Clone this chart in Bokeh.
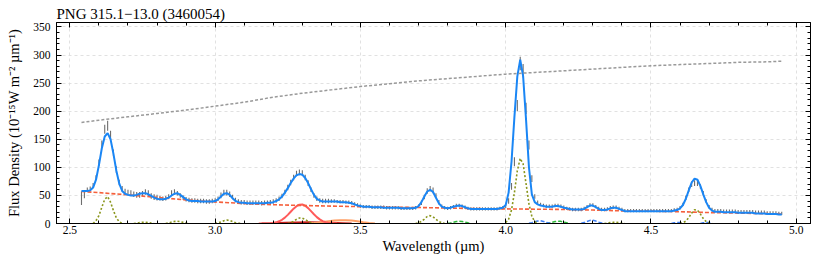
import numpy as np
from bokeh.plotting import figure
from bokeh.models import (LinearAxis, SingleIntervalTicker, PrintfTickFormatter,
                          Range1d, ColumnDataSource)
from bokeh.embed import file_html
from bokeh.resources import INLINE

# ---------------- data ----------------
# wavelength grid of the spectrum (micron)
wavelength = np.round(np.arange(254, 496) / 100.0, 2)  # 2.54 ... 4.95

# observed flux density (1e-15 W m^-2 um^-1)
flux_obs = [
    45, 52, 60, 62, 68, 82,
    108, 142, 168, 174, 158, 126, 96, 73, 62, 57,
    55, 54, 52, 51, 51, 53, 56, 54, 49, 47,
    46, 45, 44, 45, 48, 54, 56, 54, 50, 46,
    43, 42, 41, 41, 40, 40, 40, 39, 39, 40,
    41, 44, 50, 55, 55, 52, 47, 42, 39, 38,
    38, 37, 37, 37, 37, 37, 36, 37, 37, 38,
    39, 41, 44, 49, 56, 64, 73, 82, 89, 91,
    90, 82, 72, 60, 50, 44, 41, 40, 40, 40,
    40, 40, 39, 39, 39, 38, 38, 37, 35, 33,
    31, 30, 30, 30, 29, 29, 29, 29, 29, 28,
    28, 28, 28, 28, 27, 27, 27, 27, 27, 28,
    31, 37, 47, 58, 62, 59, 50, 38, 31, 28,
    27, 28, 30, 32, 32, 31, 29, 27, 26, 26,
    26, 26, 26, 26, 26, 26, 26, 26, 27, 28,
    30, 40, 66, 110, 210, 285, 272, 205, 140, 80,
    48, 38, 34, 32, 31, 31, 31, 32, 32, 31,
    29, 27, 26, 25, 25, 25, 25, 27, 30, 33,
    33, 30, 27, 25, 25, 26, 28, 29, 29, 27,
    25, 23, 23, 23, 23, 23, 23, 23, 23, 23,
    23, 23, 23, 23, 23, 23, 23, 23, 24, 25,
    28, 34, 46, 60, 70, 72, 72, 66, 54, 40,
    30, 25, 23, 23, 23, 22, 22, 22, 22, 22,
    21, 21, 21, 21, 21, 21, 20, 20, 20, 20,
    19, 19, 19, 19, 18, 18,
]
flux_err = [
    12, 7, 4, 4, 4, 4,
    6, 6, 8, 9, 7, 6, 6, 5, 5, 5,
    5, 5, 5, 5, 5, 5, 5, 5, 5, 5,
    5, 4, 4, 4, 4, 5, 5, 4, 4, 4,
    4, 4, 4, 4, 4, 4, 4, 4, 4, 4,
    4, 4, 5, 5, 5, 5, 4, 4, 4, 4,
    4, 4, 4, 4, 4, 4, 4, 4, 4, 4,
    4, 4, 4, 4, 4, 5, 5, 5, 5, 5,
    5, 5, 5, 4, 4, 4, 4, 4, 4, 4,
    3, 3, 3, 3, 3, 3, 3, 3, 3, 3,
    3, 3, 3, 3, 3, 3, 3, 3, 3, 3,
    3, 3, 3, 3, 3, 3, 3, 3, 3, 3,
    3, 4, 4, 5, 5, 5, 4, 4, 3, 3,
    3, 3, 3, 3, 3, 3, 3, 3, 3, 3,
    3, 3, 3, 3, 3, 3, 3, 3, 3, 3,
    3, 5, 6, 8, 10, 12, 12, 10, 8, 6,
    4, 3, 3, 3, 3, 3, 3, 3, 3, 3,
    3, 3, 3, 3, 3, 3, 3, 3, 3, 3,
    3, 3, 3, 3, 3, 3, 3, 3, 3, 3,
    3, 3, 3, 3, 3, 3, 3, 3, 3, 3,
    3, 3, 3, 3, 3, 3, 3, 3, 3, 3,
    3, 3, 4, 4, 5, 5, 5, 4, 4, 3,
    3, 3, 3, 3, 3, 3, 3, 3, 3, 3,
    3, 3, 3, 3, 3, 3, 3, 3, 3, 3,
    3, 3, 3, 3, 3, 3,
]
# total model fit
flux_model = [
    58, 58, 58, 59, 64, 78,
    104, 134, 155, 161, 150, 124, 94, 71, 58, 53,
    51, 50, 50, 51, 53, 54, 54, 52, 49, 46,
    44, 43, 43, 44, 46, 50, 53, 54, 51, 47,
    43, 41, 40, 40, 40, 39, 39, 39, 39, 39,
    40, 43, 48, 53, 54, 51, 45, 40, 38, 37,
    37, 36, 36, 36, 36, 36, 36, 36, 37, 37,
    38, 40, 43, 48, 55, 63, 72, 80, 86, 88,
    87, 81, 72, 61, 51, 44, 41, 39, 39, 39,
    39, 39, 39, 38, 38, 38, 37, 36, 34, 32,
    31, 30, 30, 30, 29, 29, 29, 29, 28, 28,
    28, 28, 28, 28, 27, 27, 27, 27, 27, 28,
    31, 38, 48, 57, 60, 56, 46, 36, 30, 28,
    27, 28, 30, 31, 32, 31, 29, 27, 26, 26,
    26, 26, 26, 26, 26, 26, 26, 26, 27, 28,
    33, 55, 110, 190, 262, 292, 262, 185, 100, 52,
    38, 34, 32, 31, 30, 30, 30, 31, 31, 30,
    28, 27, 26, 25, 25, 25, 25, 26, 29, 32,
    32, 29, 26, 24, 24, 25, 27, 28, 28, 26,
    24, 22, 22, 22, 22, 22, 22, 22, 22, 22,
    22, 22, 22, 22, 22, 22, 22, 22, 23, 24,
    27, 33, 44, 59, 73, 80, 78, 67, 52, 38,
    28, 23, 21, 21, 21, 20, 20, 20, 20, 20,
    19, 19, 19, 19, 19, 19, 18, 18, 18, 18,
    17, 17, 17, 17, 16, 16,
]

# continuum (red dashed)
cont_wl = [2.54, 2.6, 2.7, 2.8, 2.9, 3.0, 3.1, 3.2, 3.3, 3.4, 3.5, 3.6, 3.7,
           3.8, 3.9, 4.0, 4.1, 4.2, 4.3, 4.4, 4.5, 4.6, 4.7, 4.8, 4.9, 4.95]
cont_flux = [57, 55, 51, 46.5, 42, 38.5, 35.5, 33.5, 32, 31, 30, 29, 28.5,
             27.5, 26.5, 26, 25.5, 25, 24, 22.5, 22, 21, 19.5, 18.5, 17.5, 17]

# blackbody (grey dotted)
bb_wl = cont_wl
bb_flux = [180, 184, 190, 196, 202, 209, 216, 225, 232, 238, 244, 249, 254,
           258, 262, 266, 269, 272, 275, 278, 281, 283, 285, 287, 288, 289]

# hydrogen recombination lines (olive dotted): start wavelength, values per 0.01 um
hline_start = [2.58, 2.72, 2.83, 3.00, 3.25, 3.69, 4.00, 4.34, 4.60]
hline_vals = [
    [0, 5, 14, 29, 43, 48, 38, 23, 10, 3, 0],
    [0, 0.6, 1.5, 2.2, 2.2, 1.5, 0.6, 0],
    [0, 1, 2.5, 3.7, 4, 3.3, 2, 0.8, 0],
    [0, 1, 2.8, 5, 6, 5.5, 3.5, 1.5, 0.4, 0],
    [0, 1.5, 4, 7.5, 9.8, 9.6, 7, 3.8, 1.4, 0],
    [0, 1.2, 3.8, 8, 12.5, 14, 12, 7.5, 3.5, 1.1, 0],
    [1.8, 7.7, 24, 55, 94, 116, 106, 71, 35, 12.6, 3.3, 0.5],
    [0, 0.8, 1.6, 2, 2, 1.4, 0.6, 0],
    [0.3, 1.3, 4.2, 10.3, 18.5, 24.4, 23.6, 16.8, 8.8, 3.4, 1, 0.2],
]

# 3.3 um PAH feature (red solid)
pah_start = 3.15
pah_vals = [0, 0, 0.1, 0.2, 0.5, 1.1, 2.1, 3.9, 6.6, 10.5, 15.4, 20.9, 26.4, 30.9,
            33.5, 33.8, 31.6, 27.4, 22, 16.4, 11.4, 7.3, 4.3, 2.4, 1.2, 0.6, 0.3, 0.1]
# broad plateau (dark red solid)
plateau_wl = [3.16, 3.20, 3.24, 3.28, 3.32, 3.36, 3.40, 3.44, 3.47]
plateau_vals = [0.3, 1.0, 1.8, 2.3, 2.4, 2.2, 1.6, 0.8, 0.2]
# 3.4 um aliphatic feature (orange solid)
ali_wl = [3.33, 3.35, 3.37, 3.39, 3.41, 3.43, 3.45, 3.47, 3.49, 3.51, 3.53, 3.55]
ali_vals = [0.3, 1.2, 2.6, 4.0, 5.2, 5.9, 6.0, 5.4, 4.1, 2.4, 0.9, 0.2]

# H2 lines (green dashed)
h2_start = [3.80, 4.14]
h2_vals = [[0.3, 1, 2.2, 3.4, 4, 3.6, 2.5, 1.2, 0.4],
           [0.3, 1, 2.2, 3.4, 4.2, 3.8, 2.6, 1.2, 0.4]]
# other lines (blue dashed)
oth_start = [4.08, 4.26, 4.57, 4.67]
oth_vals = [[0.4, 1.5, 3.2, 4.6, 4.8, 3.7, 2, 0.8, 0.2],
            [0.4, 1.6, 3.6, 5.5, 5.8, 4.4, 2.4, 0.9, 0.2],
            [0.2, 1.2, 2.0, 1.6, 0.4],
            [0.2, 1.2, 2.0, 1.6, 0.4]]


def grid(start, vals):
    return list(np.round(start + 0.01 * np.arange(len(vals)), 3))


# ---------------- figure ----------------
FONT = "Liberation Serif"

p = figure(width=830, height=256,
           x_range=Range1d(2.454, 5.049), y_range=Range1d(0, 358),
           output_backend="svg", toolbar_location=None,
           title="PNG 315.1\u221213.0 (3460054)",
           min_border_left=56, min_border_right=20,
           min_border_top=22, min_border_bottom=33)
p.background_fill_color = "white"
p.border_fill_color = "white"
p.outline_line_color = "black"
p.outline_line_width = 1

p.title.text_font = FONT
p.title.text_font_style = "normal"
p.title.text_font_size = "15px"
p.title.text_color = "black"
p.title.align = "left"
p.title.offset = 0
p.title.standoff = 1

xt = SingleIntervalTicker(interval=0.5, num_minor_ticks=5)
yt = SingleIntervalTicker(interval=50, num_minor_ticks=5)


def style_axis(ax, labels=True):
    ax.axis_line_color = "black"
    ax.major_tick_in = 5
    ax.major_tick_out = 0
    ax.minor_tick_in = 3
    ax.minor_tick_out = 0
    ax.major_tick_line_color = "black"
    ax.minor_tick_line_color = "black"
    ax.major_label_text_font = FONT
    ax.major_label_text_font_size = "11.5px" if labels else "1px"
    ax.major_label_text_color = "black" if labels else None
    ax.axis_label_text_font = FONT
    ax.axis_label_text_font_style = "normal"
    ax.axis_label_text_font_size = "14.5px"
    ax.axis_label_text_color = "black"


p.xaxis.ticker = xt
p.yaxis.ticker = yt
p.xaxis.formatter = PrintfTickFormatter(format="%.1f")
style_axis(p.xaxis[0])
style_axis(p.yaxis[0])
p.xaxis.axis_label = "Wavelength (\u00b5m)"
p.yaxis.axis_label = "Flux Density (10\u207b\u00b9\u2075W m\u207b\u00b2 \u00b5m\u207b\u00b9)"
p.xaxis.major_label_standoff = 2
p.xaxis.axis_label_standoff = 1
p.yaxis.major_label_standoff = 6
p.yaxis.axis_label_standoff = 8

top = LinearAxis(ticker=xt)
style_axis(top, labels=False)
top.major_label_standoff = 0
p.add_layout(top, "above")
right = LinearAxis(ticker=yt)
style_axis(right, labels=False)
right.major_label_standoff = 0
p.add_layout(right, "right")

p.xgrid.ticker = xt
p.ygrid.ticker = yt
for g in (p.xgrid[0], p.ygrid[0]):
    g.grid_line_color = "#d9d9d9"
    g.grid_line_dash = "3 3"
    g.grid_line_width = 0.8

# error bars
lo = [f - e for f, e in zip(flux_obs, flux_err)]
hi = [f + e for f, e in zip(flux_obs, flux_err)]
src = ColumnDataSource(dict(x=wavelength, lo=lo, hi=hi))
p.segment(x0="x", y0="lo", x1="x", y1="hi", source=src,
          line_color="#6e6e6e", line_width=1.1)

# components
p.line(plateau_wl, plateau_vals, line_color="#c8201e", line_width=1.6)
p.line(ali_wl, ali_vals, line_color="#ffa066", line_width=2)
p.line(grid(pah_start, pah_vals), pah_vals, line_color="#ff5a5a", line_width=2)
for s, v in zip(h2_start, h2_vals):
    p.line(grid(s, v), v, line_color="#2fb83a", line_width=1.5, line_dash="4 2")
for s, v in zip(oth_start, oth_vals):
    p.line(grid(s, v), v, line_color="#3d7ff5", line_width=1.5, line_dash="4 2")
for s, v in zip(hline_start, hline_vals):
    p.line(grid(s, v), v, line_color="#8a961c", line_width=1.6, line_dash="2 2")

p.line(cont_wl, cont_flux, line_color="#f5603c", line_width=1.6, line_dash="4 2")
p.line(wavelength, flux_model, line_color="#1a86f5", line_width=2)
p.line(bb_wl, bb_flux, line_color="#999999", line_width=1.5, line_dash="3 2")

open("out.html", "w").write(file_html(p, INLINE))
